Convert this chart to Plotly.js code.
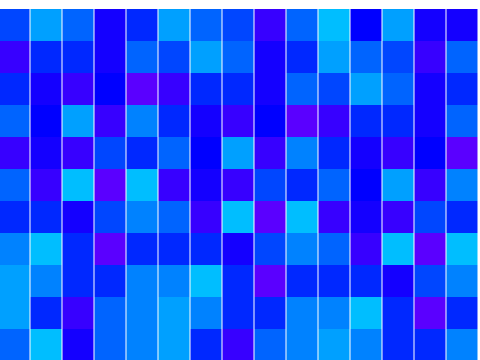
<!DOCTYPE html>
<html>
<head>
<meta charset="utf-8">
<script src="https://cdn.plot.ly/plotly-3.0.1.min.js"></script>
<style>html,body{margin:0;padding:0;background:#fff;}#chart{width:480px;height:360px;}</style>
</head>
<body>
<div id="chart"></div>
<script>
// Level colours, lowest (purple) to highest (cyan)
var levelColors = ["#5A00FF","#3700FF","#1400FF","#0000FF","#0028FF","#0046FF","#0064FF","#0082FF","#00A0FF","#00BEFF"];
var columns = [0,1,2,3,4,5,6,7,8,9,10,11,12,13,14];
var rows = [0,1,2,3,4,5,6,7,8,9,10];
var row0  = [5,8,6,2,4, 8,6,5,1,6, 9,3,8,2,2];
var row1  = [1,4,4,2,6, 5,8,6,2,4, 8,6,5,1,6];
var row2  = [4,2,1,3,0, 1,4,4,2,6, 5,8,6,2,4];
var row3  = [6,3,8,1,7, 4,2,1,3,0, 1,4,4,2,6];
var row4  = [1,2,1,5,4, 6,3,8,1,7, 4,2,1,3,0];
var row5  = [6,1,9,0,9, 1,2,1,5,4, 6,3,8,1,7];
var row6  = [4,4,2,5,7, 6,1,9,0,9, 1,2,1,5,4];
var row7  = [7,9,4,0,4, 4,4,2,5,7, 6,1,9,0,9];
var row8  = [8,7,4,4,7, 7,9,4,0,4, 4,4,2,5,7];
var row9  = [8,4,1,6,7, 8,7,4,4,7, 7,9,4,0,4];
var row10 = [6,9,2,6,7, 8,4,1,6,7, 8,7,4,4,7];

var z = [row0,row1,row2,row3,row4,row5,row6,row7,row8,row9,row10];
var n = levelColors.length - 1;
var colorscale = levelColors.map(function(c, i){ return [i / n, c]; });

var trace = {
  type: 'heatmap',
  x: columns,
  y: rows,
  z: z,
  zmin: 0,
  zmax: n,
  colorscale: colorscale,
  showscale: false,
  xgap: 1,
  ygap: 0,
  hoverinfo: 'none'
};

var layout = {
  width: 480,
  height: 360,
  margin: {l: 0, r: 2, t: 9, b: 0, pad: 0},
  paper_bgcolor: '#ffffff',
  plot_bgcolor: '#ffffff',
  xaxis: {visible: false, range: [-0.453125, 14.484375], fixedrange: true},
  yaxis: {visible: false, range: [10.46875, -0.5], fixedrange: true},
  showlegend: false
};

Plotly.newPlot('chart', [trace], layout, {displayModeBar: false, staticPlot: true});
</script>
</body>
</html>
